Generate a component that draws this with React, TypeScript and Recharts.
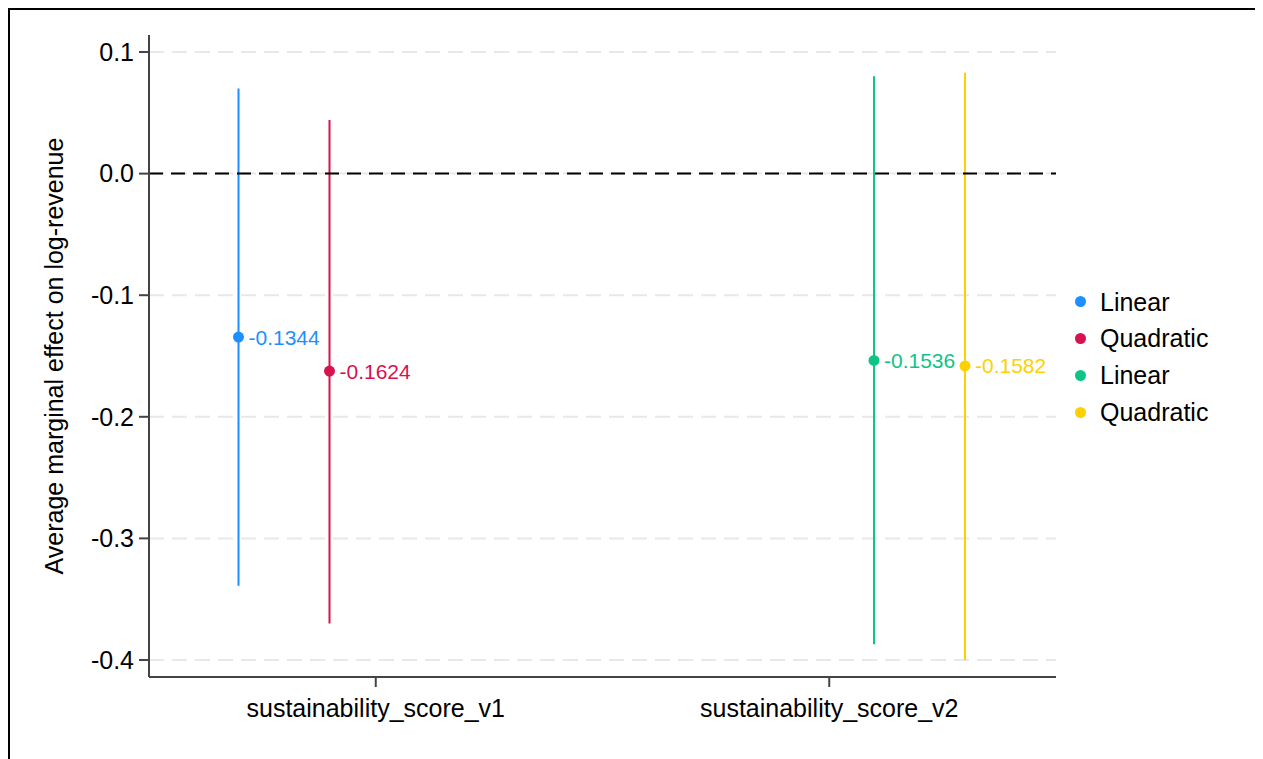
import React from "react"
import { BarChart, Bar, XAxis, YAxis, CartesianGrid, ReferenceLine } from "recharts"

const categories = ["sustainability_score_v1", "sustainability_score_v2"]
const seriesNames = ["Linear", "Quadratic", "Linear", "Quadratic"]
const seriesCategory = [0, 0, 1, 1]
const estimates = [-0.1344, -0.1624, -0.1536, -0.1582]
const lowerBounds = [-0.339, -0.37, -0.387, -0.4]
const upperBounds = [0.07, 0.044, 0.08, 0.083]
const yTicks = [0.1, 0, -0.1, -0.2, -0.3, -0.4]

const seriesColors = ["#1E8FFF", "#D8124F", "#10C487", "#FFD000"]
const FONT = "'Liberation Sans', Arial, sans-serif"

const chartData = categories.map((name, ci) => {
  const row: Record<string, any> = { name }
  seriesNames.forEach((_, si) => {
    if (seriesCategory[si] === ci) {
      row[`s${si}`] = [lowerBounds[si], upperBounds[si]]
      row[`e${si}`] = estimates[si]
    }
  })
  return row
})

function makeShape(si: number) {
  return (props: any) => {
    const { x, y, width, height, payload } = props
    const est = payload?.[`e${si}`]
    if (est == null || !Number.isFinite(y) || !Number.isFinite(height)) return <g />
    const lo = lowerBounds[si]
    const hi = upperBounds[si]
    const top = Math.min(y, y + height)
    const bottom = Math.max(y, y + height)
    const cx = x + width / 2
    // place estimate along the interval drawn by the axis scale
    const ey = top + ((hi - est) / (hi - lo)) * (bottom - top)
    const color = seriesColors[si]
    return (
      <g>
        <line x1={cx} x2={cx} y1={top} y2={bottom} stroke={color} strokeWidth={2} />
        <circle cx={cx} cy={ey} r={5.5} fill={color} />
        <text x={cx + 10} y={ey} dominantBaseline="central" fontSize={21} fontFamily={FONT} fill={color}>
          {est.toFixed(4)}
        </text>
      </g>
    )
  }
}

const YLabel = () => {
  const cy = 346
  const x = 53
  return (
    <text
      x={x}
      y={cy}
      transform={`rotate(-90, ${x}, ${cy})`}
      textAnchor="middle"
      fontSize={25}
      fontFamily={FONT}
      fill="#000"
    >
      Average marginal effect on log-revenue
    </text>
  )
}

export default function App() {
  return (
    <div
      style={{
        position: "relative",
        width: 1253,
        height: 749,
        borderTop: "2px solid #000",
        borderLeft: "2px solid #000",
        background: "#fff",
        fontFamily: FONT,
      }}
    >
      <style>{"body{overflow:hidden}"}</style>
      <BarChart
        width={1245}
        height={741}
        data={chartData}
        margin={{ top: 25, right: 199, bottom: 24, left: 0 }}
        barCategoryGap={44}
        barGap={0}
      >
        <CartesianGrid
          vertical={false}
          horizontalValues={yTicks}
          stroke="#e8e8e8"
          strokeWidth={2}
          strokeDasharray="15 8"
        />
        <XAxis
          dataKey="name"
          height={50}
          tickSize={10}
          tickMargin={12}
          axisLine={{ stroke: "#444", strokeWidth: 2 }}
          tickLine={{ stroke: "#444", strokeWidth: 2 }}
          tick={{ fill: "#000", fontSize: 25, fontFamily: FONT }}
        />
        <YAxis
          width={139}
          domain={[-0.414, 0.114]}
          ticks={yTicks}
          interval={0}
          tickFormatter={(v) => v.toFixed(1)}
          tickSize={10}
          tickMargin={5}
          axisLine={{ stroke: "#444", strokeWidth: 2 }}
          tickLine={{ stroke: "#444", strokeWidth: 2 }}
          tick={{ fill: "#000", fontSize: 25, fontFamily: FONT }}
          label={{ content: YLabel }}
        />
        <ReferenceLine y={0} stroke="#000" strokeWidth={2} strokeDasharray="14 8" />
        {seriesNames.map((n, si) => (
          <Bar
            key={si}
            dataKey={`s${si}`}
            name={n}
            fill={seriesColors[si]}
            shape={makeShape(si)}
            isAnimationActive={false}
          />
        ))}
      </BarChart>
      <div style={{ position: "absolute", left: 1064.5, top: 273.6 }}>
        {seriesNames.map((n, si) => (
          <div key={si} style={{ display: "flex", alignItems: "center", height: 36.7 }}>
            <div
              style={{
                width: 11,
                height: 11,
                borderRadius: "50%",
                background: seriesColors[si],
                marginRight: 14.5,
              }}
            />
            <span style={{ fontSize: 25, color: "#000", lineHeight: "36.7px" }}>{n}</span>
          </div>
        ))}
      </div>
    </div>
  )
}
